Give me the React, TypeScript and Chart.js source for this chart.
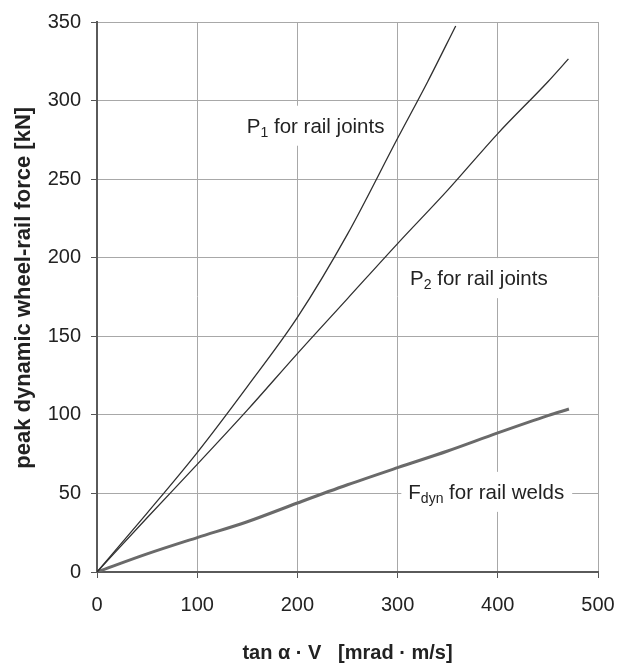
import React, { useEffect, useRef } from "react";
import { Chart, registerables } from "chart.js";

Chart.register(...registerables);

// P1 for rail joints
const p1X = [0, 50, 100, 150, 200, 250, 300, 330, 358];
const p1Y = [0, 37.5, 76, 118, 162, 215, 276, 312, 347.5];

// P2 for rail joints
const p2X = [0, 50, 100, 150, 200, 250, 300, 350, 400, 450, 470.5];
const p2Y = [0, 34.5, 68.5, 103, 139, 174, 209, 243, 279, 312, 326.5];

// Fdyn for rail welds
const fdynX = [0, 50, 100, 150, 200, 250, 300, 350, 400, 450, 471];
const fdynY = [0, 11.5, 21.9, 32, 43.9, 55.5, 66.4, 77, 88.5, 99.5, 103.7];

const xTicks = [0, 100, 200, 300, 400, 500];
const yTicks = [0, 50, 100, 150, 200, 250, 300, 350];

// Curve captions: main letter, subscript, remainder, anchored in data units
const captionMain = ["P", "P", "F"];
const captionSub = ["1", "2", "dyn"];
const captionRest = [" for rail joints", " for rail joints", " for rail welds"];
const captionX = [149.5, 312.4, 310.7];
const captionY = [284, 187, 51];

const FONT = "'Liberation Sans', Arial, sans-serif";
const TEXT = "#222";

const toPoints = (xs: number[], ys: number[]) => xs.map((x, i) => ({ x, y: ys[i] }));

const captionPlugin = {
  id: "curveCaptions",
  beforeDatasetsDraw(chart: any) {
    const { ctx, scales } = chart;
    const xs = scales.x;
    const ys = scales.y;
    ctx.save();
    for (let i = 0; i < captionMain.length; i++) {
      const px = xs.getPixelForValue(captionX[i]);
      const py = ys.getPixelForValue(captionY[i]);
      ctx.font = `20.5px ${FONT}`;
      const wMain = ctx.measureText(captionMain[i]).width;
      const wRest = ctx.measureText(captionRest[i]).width;
      ctx.font = `14px ${FONT}`;
      const wSub = ctx.measureText(captionSub[i]).width;
      const total = wMain + wSub + wRest;
      // white backing that breaks the grid lines behind the caption
      ctx.fillStyle = "#fff";
      ctx.fillRect(px - 7, py - 20, total + 15, 40);
      const base = py + 7;
      ctx.fillStyle = TEXT;
      ctx.textBaseline = "alphabetic";
      ctx.textAlign = "left";
      ctx.font = `20.5px ${FONT}`;
      ctx.fillText(captionMain[i], px, base);
      ctx.font = `14px ${FONT}`;
      ctx.fillText(captionSub[i], px + wMain, base + 4);
      ctx.font = `20.5px ${FONT}`;
      ctx.fillText(captionRest[i], px + wMain + wSub, base);
    }
    ctx.restore();
  },
};

export default function App() {
  const canvasRef = useRef<HTMLCanvasElement | null>(null);

  useEffect(() => {
    document.body.style.margin = "0";
    const canvas = canvasRef.current;
    if (!canvas) return;
    const chart = new Chart(canvas, {
      type: "scatter",
      data: {
        datasets: [
          {
            label: "P1 for rail joints",
            data: toPoints(p1X, p1Y),
            showLine: true,
            borderColor: "#303030",
            borderWidth: 1.3,
            pointRadius: 0,
            cubicInterpolationMode: "monotone",
          },
          {
            label: "P2 for rail joints",
            data: toPoints(p2X, p2Y),
            showLine: true,
            borderColor: "#303030",
            borderWidth: 1.3,
            pointRadius: 0,
            cubicInterpolationMode: "monotone",
          },
          {
            label: "Fdyn for rail welds",
            data: toPoints(fdynX, fdynY),
            showLine: true,
            borderColor: "#6a6a6a",
            borderWidth: 3,
            pointRadius: 0,
            cubicInterpolationMode: "monotone",
          },
        ],
      },
      options: {
        responsive: false,
        animation: false,
        devicePixelRatio: 1,
        layout: { padding: { left: 0, top: 22, right: 19, bottom: 0 } },
        plugins: {
          legend: { display: false },
          tooltip: { enabled: false },
        },
        scales: {
          x: {
            type: "linear",
            min: 0,
            max: 500,
            afterBuildTicks: (s: any) => {
              s.ticks = xTicks.map((v) => ({ value: v }));
            },
            afterFit: (s: any) => {
              s.height = 94;
              s.paddingLeft = 0;
              s.paddingRight = 0;
            },
            ticks: { color: TEXT, font: { family: FONT, size: 20 }, padding: 15 },
            grid: { color: "#a8a8a8", lineWidth: 1, tickLength: 6, tickColor: "#555" },
            border: { color: "#5a5a5a", width: 2 },
            title: {
              display: true,
              text: "tan α · V   [mrad · m/s]",
              color: TEXT,
              font: { family: FONT, size: 20, weight: "bold" },
              padding: { top: 0, bottom: 1 },
            },
          },
          y: {
            type: "linear",
            min: 0,
            max: 350,
            afterBuildTicks: (s: any) => {
              s.ticks = yTicks.map((v) => ({ value: v }));
            },
            afterFit: (s: any) => {
              s.width = 97;
              s.paddingTop = 0;
              s.paddingBottom = 0;
            },
            ticks: { color: TEXT, font: { family: FONT, size: 20 }, padding: 10 },
            grid: { color: "#a8a8a8", lineWidth: 1, tickLength: 6, tickColor: "#555" },
            border: { color: "#5a5a5a", width: 2 },
            title: {
              display: true,
              text: "   peak dynamic wheel-rail force [kN]",
              color: TEXT,
              font: { family: FONT, size: 22, weight: "bold" },
              padding: { top: 11, bottom: 0 },
            },
          },
        },
      },
      plugins: [captionPlugin],
    } as any);
    return () => chart.destroy();
  }, []);

  return (
    <div style={{ width: 617, height: 666 }}>
      <canvas ref={canvasRef} width={617} height={666} style={{ display: "block" }} />
    </div>
  );
}
